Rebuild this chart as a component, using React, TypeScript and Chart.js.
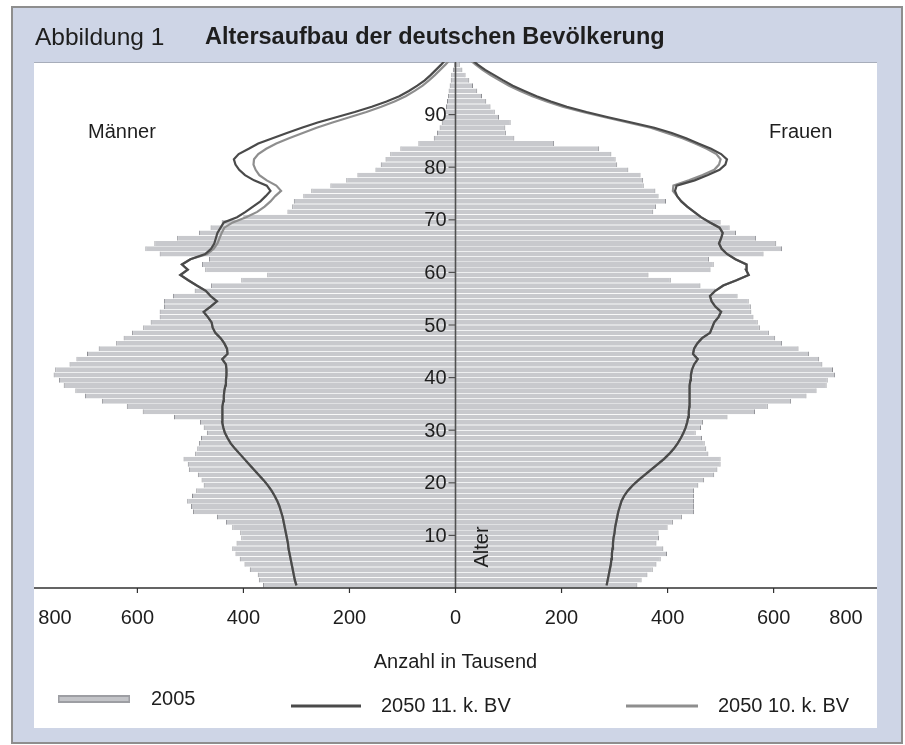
import { useEffect, useRef } from "react";
import { Chart, registerables } from "chart.js";

Chart.register(...registerables);

// Age of each row (one bar / one line point per year of age)
const ages: number[] = Array.from({ length: 101 }, (_, i) => i);

// 2005 population, in thousands (Männer / Frauen), ages 0..99
const men2005 = [
  363, 371, 373, 388, 398, 407, 415, 421, 413, 404,
  406, 421, 433, 450, 495, 499, 506, 497, 489, 475,
  479, 486, 503, 505, 513, 491, 487, 484, 480, 469,
  475, 482, 531, 590, 620, 667, 699, 717, 739, 748,
  758, 755, 728, 715, 695, 673, 640, 626, 610, 589,
  575, 558, 558, 550, 550, 533, 492, 461, 404, 355,
  472, 478, 465, 558, 585, 568, 525, 484, 462, 441,
  400, 317, 308, 305, 287, 272, 236, 206, 185, 151,
  141, 132, 123, 104, 70, 41, 35, 30, 26, 22,
  19, 18, 16, 14, 13, 11, 9, 8, 5, 3,
];
const women2005 = [
  343, 351, 362, 372, 379, 387, 399, 392, 379, 384,
  383, 400, 410, 427, 450, 450, 450, 450, 450, 458,
  469, 488, 494, 500, 500, 477, 473, 470, 465, 453,
  463, 467, 513, 565, 589, 633, 662, 681, 700, 702,
  716, 712, 692, 686, 667, 647, 616, 603, 591, 574,
  570, 562, 558, 557, 553, 532, 490, 462, 406, 364,
  481, 487, 478, 581, 616, 605, 567, 529, 517, 500,
  462, 373, 378, 397, 383, 377, 355, 354, 349, 326,
  305, 302, 294, 271, 186, 111, 95, 94, 104, 82,
  74, 66, 58, 50, 41, 33, 26, 19, 13, 8,
];

// 2050, 11. koordinierte Bevölkerungsvorausberechnung, ages 0..100
const men2050v11 = [
  300, 303, 305, 307, 309, 311, 313, 315, 316, 318,
  320, 322, 324, 326, 329, 332, 336, 341, 347, 354,
  362, 371, 380, 389, 398, 407, 416, 424, 430, 435,
  438, 440, 440, 440, 439, 438, 437, 436, 434, 433,
  432, 432, 433, 440, 430, 431, 436, 443, 453, 458,
  460, 467, 475, 462, 450, 462, 471, 488, 504, 519,
  505, 516, 500, 472, 461, 455, 452, 449, 443, 437,
  412, 396, 382, 368, 358, 349, 356, 380, 397, 408,
  415, 418, 409, 390, 372, 345, 318, 290, 260, 225,
  190, 158, 130, 106, 88, 72, 58, 47, 37, 27,
  18,
];
const women2050v11 = [
  285, 287, 289, 291, 293, 294, 295, 296, 297, 298,
  300, 301, 303, 305, 307, 310, 313, 318, 325, 334,
  345, 357, 369, 381, 393, 403, 412, 419, 425, 430,
  434, 437, 439, 440, 441, 441, 441, 442, 442, 443,
  444, 446, 450, 457, 448, 450, 456, 465, 480, 484,
  488, 496, 501, 490, 483, 480, 490, 505, 530, 553,
  548, 549, 528, 512, 502, 497, 501, 504, 498, 480,
  463, 450, 437, 426, 418, 414, 417, 451, 476, 498,
  509, 512, 501, 482, 458, 435, 408, 375, 332, 288,
  247, 210, 180, 153, 130, 108, 90, 73, 56, 42,
  30,
];

// 2050, 10. koordinierte Bevölkerungsvorausberechnung, ages 0..100
const men2050v10 = [
  300, 303, 305, 307, 309, 311, 313, 315, 316, 318,
  320, 322, 324, 326, 329, 332, 336, 341, 347, 354,
  362, 371, 380, 389, 398, 407, 416, 424, 430, 435,
  438, 440, 440, 440, 439, 438, 437, 436, 434, 433,
  432, 432, 433, 440, 430, 431, 436, 443, 453, 458,
  460, 467, 475, 462, 450, 462, 471, 488, 504, 519,
  505, 516, 500, 468, 456, 449, 445, 441, 436, 420,
  395, 374, 360, 349, 340, 329, 338, 356, 370, 377,
  381, 380, 372, 357, 338, 314, 288, 262, 232, 200,
  168, 140, 115, 94, 77, 62, 50, 39, 29, 19,
  10,
];
const women2050v10 = [
  285, 287, 289, 291, 293, 294, 295, 296, 297, 298,
  300, 301, 303, 305, 307, 310, 313, 318, 325, 334,
  345, 357, 369, 381, 393, 403, 412, 419, 425, 430,
  434, 437, 439, 440, 441, 441, 441, 442, 442, 443,
  444, 446, 450, 457, 448, 450, 456, 465, 480, 484,
  488, 496, 501, 490, 483, 480, 490, 505, 530, 553,
  548, 549, 528, 512, 502, 497, 501, 504, 498, 480,
  463, 450, 437, 426, 418, 410, 411, 440, 466, 488,
  497, 500, 492, 474, 452, 428, 398, 368, 325, 282,
  240, 202, 172, 145, 122, 101, 83, 66, 51, 38,
  26,
];

// Axis ticks
const xTickValues = [-800, -600, -400, -200, 0, 200, 400, 600, 800];
const xTickLabels = ["800", "600", "400", "200", "0", "200", "400", "600", "800"];
const yTickValues = [10, 20, 30, 40, 50, 60, 70, 80, 90];

const labels = {
  figure: "Abbildung 1",
  title: "Altersaufbau der deutschen Bevölkerung",
  men: "Männer",
  women: "Frauen",
  age: "Alter",
  xTitle: "Anzahl in Tausend",
  s2005: "2005",
  s11: "2050 11. k. BV",
  s10: "2050 10. k. BV",
};

const FONT = '"Liberation Sans", Arial, Helvetica, sans-serif';
const TEXT = "#1e1e1e";
const BAR_FILL = "#c8c9cd";
const BAR_EDGE = "#8c8d92";
const DARK = "#4a4a4a";
const LIGHT = "#8e8e8e";
const FRAME_FILL = "#ced5e6";

const toPoints = (vals: number[], sign: number) =>
  vals.map((v, i) => ({ x: sign * v, y: ages[i] + 0.5 }));

const decorPlugin = {
  id: "decor",
  beforeDraw(chart: any) {
    const { ctx, width, height } = chart;
    const area = chart.chartArea;
    ctx.save();
    ctx.fillStyle = "#ffffff";
    ctx.fillRect(0, 0, width, height);
    // outer frame
    ctx.fillStyle = FRAME_FILL;
    ctx.fillRect(12, 7, 890, 736);
    ctx.strokeStyle = "#8e8e8e";
    ctx.lineWidth = 2;
    ctx.strokeRect(12, 7, 890, 736);
    // white panel
    ctx.fillStyle = "#ffffff";
    ctx.fillRect(area.left, area.top, area.right - area.left, 728 - area.top);
    ctx.strokeStyle = "#a7adba";
    ctx.lineWidth = 1;
    ctx.beginPath();
    ctx.moveTo(area.left, area.top + 0.5);
    ctx.lineTo(area.right, area.top + 0.5);
    ctx.stroke();
    // title
    ctx.fillStyle = TEXT;
    ctx.textBaseline = "middle";
    ctx.textAlign = "left";
    ctx.font = `24.5px ${FONT}`;
    ctx.fillText(labels.figure, 35, 38);
    ctx.font = `bold 23.5px ${FONT}`;
    ctx.fillText(labels.title, 205, 38);
    ctx.restore();
  },
  afterDatasetsDraw(chart: any) {
    const { ctx } = chart;
    const area = chart.chartArea;
    const xs = chart.scales.x;
    const ys = chart.scales.y;
    const x0 = xs.getPixelForValue(0);
    const yBase = ys.getPixelForValue(0);
    ctx.save();

    // vertical age axis at x = 0
    ctx.strokeStyle = "#505050";
    ctx.lineWidth = 1.6;
    ctx.beginPath();
    ctx.moveTo(x0, area.top);
    ctx.lineTo(x0, yBase);
    ctx.stroke();

    // y ticks + labels
    ctx.lineWidth = 1.2;
    ctx.fillStyle = TEXT;
    ctx.font = `20px ${FONT}`;
    ctx.textAlign = "right";
    ctx.textBaseline = "middle";
    yTickValues.forEach((v) => {
      const py = ys.getPixelForValue(v);
      ctx.beginPath();
      ctx.moveTo(x0 - 7, py);
      ctx.lineTo(x0, py);
      ctx.stroke();
      ctx.fillText(String(v), x0 - 9, py + 1);
    });

    // x axis line
    ctx.strokeStyle = "#303030";
    ctx.lineWidth = 1.6;
    ctx.beginPath();
    ctx.moveTo(area.left, yBase);
    ctx.lineTo(area.right, yBase);
    ctx.stroke();

    // x ticks + labels
    ctx.lineWidth = 1.2;
    ctx.textAlign = "center";
    xTickValues.forEach((v, i) => {
      const px = xs.getPixelForValue(v);
      if (px > area.left + 2 && px < area.right - 2) {
        ctx.beginPath();
        ctx.moveTo(px, yBase);
        ctx.lineTo(px, yBase + 5);
        ctx.stroke();
      }
      const lx = Math.min(Math.max(px, area.left + 21), area.right - 31);
      ctx.fillText(xTickLabels[i], lx, yBase + 30);
    });

    // axis title
    ctx.fillText(labels.xTitle, (area.left + area.right) / 2, 662);

    // side labels
    ctx.textAlign = "left";
    ctx.fillText(labels.men, 88, 132);
    ctx.fillText(labels.women, 769, 132);

    // "Alter" rotated
    ctx.save();
    ctx.translate(x0 + 27, 547);
    ctx.rotate(-Math.PI / 2);
    ctx.textAlign = "center";
    ctx.fillText(labels.age, 0, 0);
    ctx.restore();

    // legend
    const ly1 = 699;
    ctx.fillStyle = "#9d9ea3";
    ctx.fillRect(58, ly1 - 4, 72, 8);
    ctx.fillStyle = "#c3c4c8";
    ctx.fillRect(59.5, ly1 - 2, 69, 4);
    ctx.fillStyle = TEXT;
    ctx.textAlign = "left";
    ctx.fillText(labels.s2005, 151, ly1);

    const ly2 = 706;
    ctx.lineWidth = 3;
    ctx.strokeStyle = DARK;
    ctx.beginPath();
    ctx.moveTo(291, ly2);
    ctx.lineTo(361, ly2);
    ctx.stroke();
    ctx.fillText(labels.s11, 381, ly2);

    ctx.strokeStyle = LIGHT;
    ctx.beginPath();
    ctx.moveTo(626, ly2);
    ctx.lineTo(698, ly2);
    ctx.stroke();
    ctx.fillText(labels.s10, 718, ly2);

    ctx.restore();
  },
};

export default function App() {
  const ref = useRef<HTMLCanvasElement>(null);

  useEffect(() => {
    const canvas = ref.current;
    if (!canvas) return;
    const barCommon = {
      type: "bar" as const,
      backgroundColor: BAR_FILL,
      borderColor: BAR_EDGE,
      borderWidth: { left: 1, right: 1, top: 0, bottom: 0 },
      borderSkipped: "start" as const,
      grouped: false,
      barPercentage: 0.92,
      categoryPercentage: 1,
      order: 3,
      clip: 0,
    };
    const lineCommon = {
      type: "line" as const,
      pointRadius: 0,
      borderWidth: 2.2,
      tension: 0,
      fill: false,
      clip: 0,
    };
    const chart = new Chart(canvas, {
      type: "bar",
      data: {
        datasets: [
          { ...lineCommon, label: labels.s11, data: toPoints(men2050v11, -1), borderColor: DARK, order: 0 },
          { ...lineCommon, label: labels.s11, data: toPoints(women2050v11, 1), borderColor: DARK, order: 0 },
          { ...lineCommon, label: labels.s10, data: toPoints(men2050v10, -1), borderColor: LIGHT, order: 1 },
          { ...lineCommon, label: labels.s10, data: toPoints(women2050v10, 1), borderColor: LIGHT, order: 1 },
          { ...barCommon, label: labels.s2005, data: toPoints(men2005, -1) },
          { ...barCommon, label: labels.s2005, data: toPoints(women2005, 1) },
        ] as any,
      },
      options: {
        indexAxis: "y",
        responsive: false,
        animation: false,
        devicePixelRatio: 1,
        layout: { padding: { left: 34, right: 28, top: 62, bottom: 157 } },
        scales: {
          x: { type: "linear", min: -795, max: 795, display: false, offset: false },
          y: { type: "linear", min: 0, max: 100, display: false, offset: false },
        },
        plugins: {
          legend: { display: false },
          tooltip: { enabled: false },
          title: { display: false },
        },
      } as any,
      plugins: [decorPlugin],
    });
    return () => chart.destroy();
  }, []);

  return (
    <div style={{ position: "fixed", left: 0, top: 0, width: 905, height: 745 }}>
      <canvas ref={ref} width={905} height={745} style={{ display: "block" }} />
    </div>
  );
}
